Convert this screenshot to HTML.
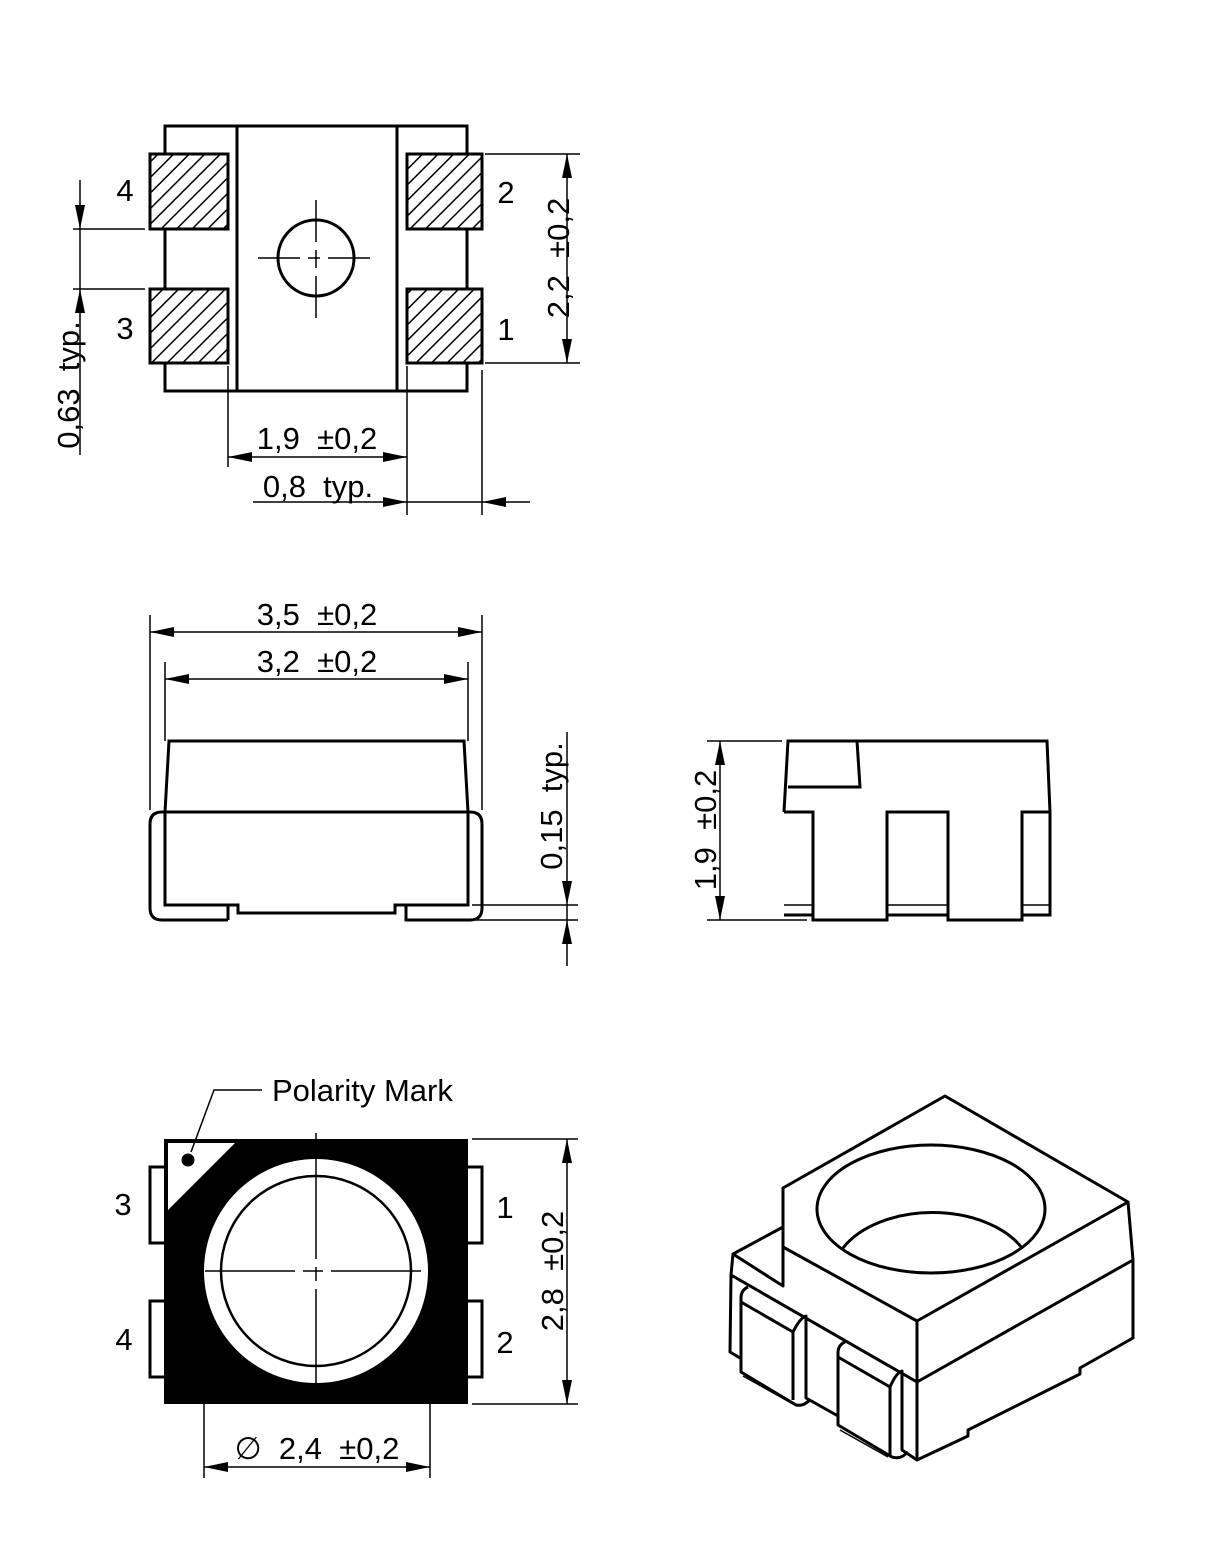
<!DOCTYPE html>
<html><head><meta charset="utf-8"><style>html,body{margin:0;padding:0;background:#fff}svg{display:block}text{font-family:"Liberation Sans",sans-serif;font-size:31px;fill:#000;white-space:pre}</style></head><body>
<svg width="1229" height="1558" viewBox="0 0 1229 1558" xmlns="http://www.w3.org/2000/svg" xml:space="preserve">
<defs>
<marker id="a" markerUnits="userSpaceOnUse" markerWidth="24" markerHeight="10" refX="24" refY="5" orient="auto-start-reverse"><path d="M0,0 L24,5 L0,10 z" fill="#000"/></marker>
<pattern id="h" patternUnits="userSpaceOnUse" width="11" height="11" patternTransform="rotate(45)"><line x1="0" y1="0" x2="0" y2="11" stroke="#000" stroke-width="3"/></pattern>
</defs>
<g fill="none" stroke="#000">
<rect x="165" y="126" width="302" height="265" stroke-width="3"/>
<line x1="237" y1="126" x2="237" y2="391" stroke-width="3"/>
<line x1="397" y1="126" x2="397" y2="391" stroke-width="3"/>
<g stroke-width="3">
<rect x="150" y="154" width="78" height="75" fill="#fff"/><rect x="150" y="154" width="78" height="75" fill="url(#h)"/>
<rect x="150" y="289" width="78" height="74" fill="#fff"/><rect x="150" y="289" width="78" height="74" fill="url(#h)"/>
<rect x="407" y="154" width="75" height="75" fill="#fff"/><rect x="407" y="154" width="75" height="75" fill="url(#h)"/>
<rect x="407" y="289" width="75" height="74" fill="#fff"/><rect x="407" y="289" width="75" height="74" fill="url(#h)"/>
</g>
<circle cx="316" cy="258" r="38" stroke-width="3"/>
<g stroke-width="1.5">
<line x1="258" y1="258" x2="374" y2="258" stroke-dasharray="42,8,12,8,42"/>
<line x1="316" y1="200" x2="316" y2="318" stroke-dasharray="42,8,18,8,42"/>
<line x1="485" y1="154" x2="580" y2="154"/><line x1="485" y1="363" x2="580" y2="363"/>
<line x1="567" y1="154" x2="567" y2="363" marker-start="url(#a)" marker-end="url(#a)"/>
<line x1="73" y1="229" x2="145" y2="229"/><line x1="73" y1="289" x2="145" y2="289"/>
<line x1="80" y1="180" x2="80" y2="455"/>
<line x1="228" y1="366" x2="228" y2="467"/><line x1="407" y1="366" x2="407" y2="515"/>
<line x1="482" y1="370" x2="482" y2="515"/>
<line x1="228" y1="457" x2="407" y2="457" marker-start="url(#a)" marker-end="url(#a)"/>
<line x1="253" y1="502" x2="530" y2="502"/>
</g>
</g>
<g fill="#000">
<polygon points="80,229 75,205 85,205"/><polygon points="80,289 75,313 85,313"/>
<polygon points="407,502 383,497 383,507"/><polygon points="482,502 506,497 506,507"/>
<polygon points="567,905 562,881 572,881"/><polygon points="567,920 562,944 572,944"/>
</g>
<text x="125" y="201" text-anchor="middle">4</text>
<text x="125" y="339" text-anchor="middle">3</text>
<text x="506" y="203" text-anchor="middle">2</text>
<text x="506" y="340" text-anchor="middle">1</text>
<text transform="translate(569,258) rotate(-90)" text-anchor="middle">2,2  ±0,2</text>
<text transform="translate(79,385) rotate(-90)" text-anchor="middle">0,63  typ.</text>
<text x="317" y="449" text-anchor="middle">1,9  ±0,2</text>
<text x="318" y="497" text-anchor="middle">0,8  typ.</text>

<g fill="none" stroke="#000" stroke-width="3">
<path d="M228,920 L162,920 Q150,920 150,908 L150,824 Q150,812 162,812 L470,812 Q482,812 482,824 L482,908 Q482,920 470,920 L406,920 L406,905"/>
<path d="M165,812 L169,741 L464,741 L468,812"/>
<path d="M165,812 L165,905 L238,905 L238,913 L395,913 L395,905 L468,905 L468,812 Z"/>
<line x1="228" y1="920" x2="228" y2="905"/>
</g>
<g fill="none" stroke="#000" stroke-width="1.5">
<line x1="150" y1="615" x2="150" y2="810"/><line x1="482" y1="615" x2="482" y2="810"/>
<line x1="150" y1="632" x2="482" y2="632" marker-start="url(#a)" marker-end="url(#a)"/>
<line x1="165" y1="662" x2="165" y2="741"/><line x1="468" y1="662" x2="468" y2="741"/>
<line x1="165" y1="679" x2="468" y2="679" marker-start="url(#a)" marker-end="url(#a)"/>
<line x1="472" y1="905" x2="578" y2="905"/><line x1="472" y1="920" x2="578" y2="920"/>
<line x1="567" y1="732" x2="567" y2="966"/>
</g>
<text x="317" y="625" text-anchor="middle">3,5  ±0,2</text>
<text x="317" y="672" text-anchor="middle">3,2  ±0,2</text>
<text transform="translate(562,806) rotate(-90)" text-anchor="middle">0,15  typ.</text>

<g fill="none" stroke="#000" stroke-width="3">
<path d="M784,812 L788,741 L1047,741 L1050,812"/>
<path d="M788,787 L860,787 L857,741"/>
<path d="M784,812 L813,812 L813,920 L887,920 L887,812 L948,812 L948,920 L1022,920 L1022,812 L1050,812 L1050,915 L1022,915 M948,915 L887,915 M813,915 L784,915 Z"/>
</g>
<g fill="none" stroke="#000" stroke-width="1.5">
<line x1="784" y1="905" x2="813" y2="905"/><line x1="887" y1="905" x2="948" y2="905"/><line x1="1022" y1="905" x2="1050" y2="905"/>
<line x1="707" y1="741" x2="782" y2="741"/><line x1="707" y1="920" x2="807" y2="920"/>
<line x1="720" y1="741" x2="720" y2="920" marker-start="url(#a)" marker-end="url(#a)"/>
</g>
<text transform="translate(716,830) rotate(-90)" text-anchor="middle">1,9  ±0,2</text>

<g fill="#fff" stroke="#000" stroke-width="3">
<rect x="150" y="1167" width="16" height="76"/><rect x="150" y="1301" width="16" height="76"/>
<rect x="466" y="1167" width="16" height="76"/><rect x="466" y="1301" width="16" height="76"/>
</g>
<rect x="164" y="1139" width="304" height="265" fill="#000"/>
<polygon points="168,1143 235,1143 168,1210" fill="#fff"/>
<circle cx="188" cy="1160" r="6.5" fill="#000"/>
<circle cx="316" cy="1271" r="112" fill="#fff"/>
<circle cx="316" cy="1271" r="95" fill="#fff" stroke="#000" stroke-width="2.5"/>
<g stroke="#000" stroke-width="1.5" fill="none">
<line x1="316" y1="1159" x2="316" y2="1383" stroke-dasharray="100,8,14,8,100"/>
<line x1="205" y1="1271" x2="428" y2="1271" stroke-dasharray="90,8,20,8,90"/>
<line x1="316" y1="1133" x2="316" y2="1139"/>
<polyline points="191,1152 214,1090 262,1090"/>
<line x1="472" y1="1139" x2="578" y2="1139"/><line x1="472" y1="1404" x2="578" y2="1404"/>
<line x1="567" y1="1139" x2="567" y2="1404" marker-start="url(#a)" marker-end="url(#a)"/>
<line x1="204" y1="1404" x2="204" y2="1478"/><line x1="430" y1="1404" x2="430" y2="1478"/>
<line x1="204" y1="1467" x2="430" y2="1467" marker-start="url(#a)" marker-end="url(#a)"/>
</g>
<text x="272" y="1101">Polarity Mark</text>
<text x="123" y="1215" text-anchor="middle">3</text>
<text x="124" y="1350" text-anchor="middle">4</text>
<text x="505" y="1218" text-anchor="middle">1</text>
<text x="505" y="1353" text-anchor="middle">2</text>
<text transform="translate(563,1271) rotate(-90)" text-anchor="middle">2,8  ±0,2</text>
<text x="317" y="1459" text-anchor="middle">∅  2,4  ±0,2</text>

<g fill="none" stroke="#000" stroke-width="3" stroke-linejoin="round">
<path d="M783,1188 L945,1096 L1128,1202 L917,1321 L783,1247 Z" fill="#fff"/>
<path d="M783,1188 L783,1286 L733,1254 L783,1227"/>
<path d="M733,1254 L731,1275 L730,1352 L740,1358"/>
<path d="M731,1275 L917,1382"/>
<path d="M1128,1202 L1133,1260 L1133,1338 L1080,1368 L1080,1374 L968,1430 L968,1436 L917,1460 L917,1321"/>
<path d="M917,1382 L1133,1260"/>
<ellipse cx="931" cy="1209" rx="114" ry="64"/>
<path d="M843,1248 A100 64 0 0 1 1022,1248"/>
<path d="M748,1287 Q741,1290 741,1298 L741,1372 L796,1405 Q802,1406 806,1403 L810,1400"/>
<path d="M741,1302 L793,1332 L793,1400"/>
<path d="M793,1332 Q800,1318 806,1316 L806,1398 L838,1416"/>
<path d="M743,1376 L793,1404" stroke-width="1.5"/>
<path d="M845,1342 Q838,1345 838,1353 L838,1425 L892,1457 Q898,1459 903,1456 L908,1452"/>
<path d="M838,1357 L890,1387 L890,1455"/>
<path d="M890,1387 Q896,1373 902,1371 L902,1450 L917,1460"/>
<path d="M840,1430 L888,1457" stroke-width="1.5"/>
</g>
</svg>
</body></html>
